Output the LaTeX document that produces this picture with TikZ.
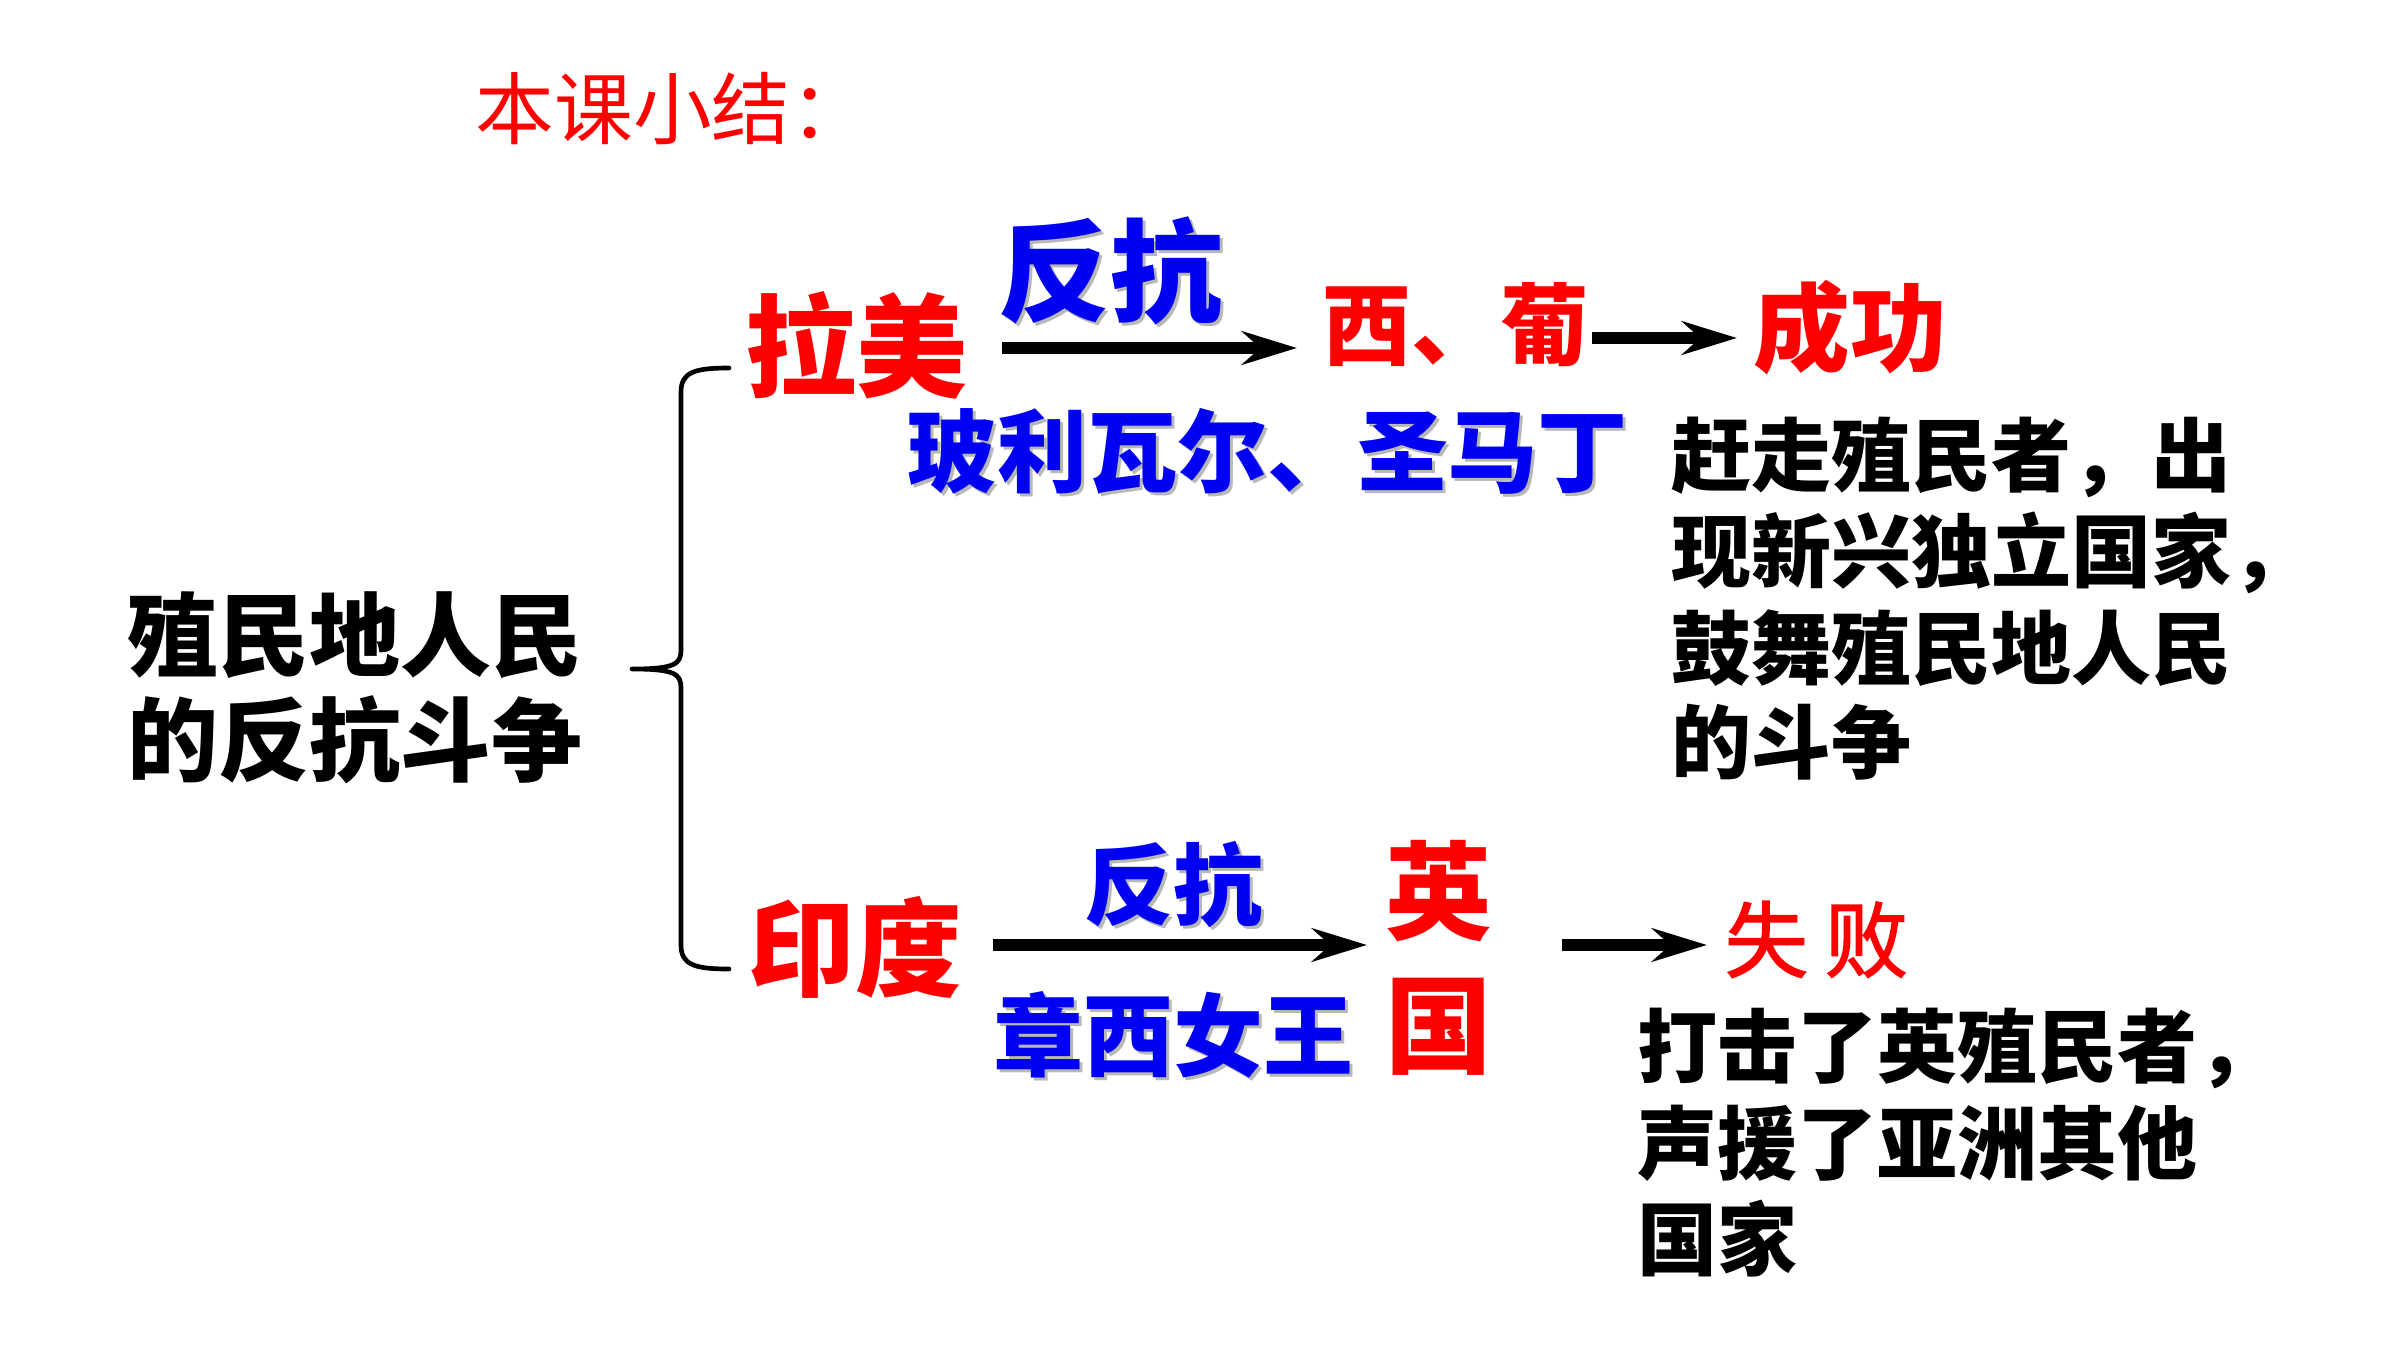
\documentclass[tikz,border=0pt]{standalone}
\usepackage{fontspec}
\setmainfont{Noto Sans CJK SC}
\newfontfamily\cjk{Noto Sans CJK SC}
\newfontfamily\cjkm{Noto Sans CJK SC}[FakeBold=1.6]
\usetikzlibrary{arrows.meta}
\definecolor{tred}{RGB}{255,0,0}
\definecolor{tblue}{RGB}{0,0,245}
\newcommand\shd[1]{\makebox[0pt][l]{\hspace{0.9pt}\raisebox{-0.9pt}{\textcolor{black!28}{#1}}}#1}
\tikzset{
  txt/.style={anchor=base west, inner sep=0pt, font=\cjk\bfseries},
  redt/.style={txt, text=tred},
  bluet/.style={txt, text=tblue},
  blackt/.style={txt, text=black},
  arr/.style={line width=3.4pt, -{Stealth[length=16.5pt, width=10pt, inset=5.5pt]}},
  brace/.style={line width=1.4pt, line cap=round, line join=round},
}
\newcommand\fs[1]{\fontsize{#1pt}{#1pt}\selectfont}
\begin{document}
\begin{tikzpicture}[x=0.3pt,y=-0.3pt]
\useasboundingbox (0,0) rectangle (2400,1350);
\fill[white] (0,0) rectangle (2400,1350);
% title
\node[txt, font=\cjk, text=tred] (title) at (475,139) {\fs{23.6}本课小结：};
% root
\node[blackt] (root1) at (127,669) {\fs{27.3}殖民地人民};
\node[blackt] (root2) at (127,774) {\fs{27.3}的反抗斗争};
% brace
\coordinate (btop) at (729,368);
\coordinate (bbot) at (729,969);
\coordinate (btip) at (632,669);
\draw[brace] (btop) .. controls (695,368) and (681,372) .. (681,392)
  -- (681,650) .. controls (681,664) and (675,669) .. (btip)
  .. controls (675,669) and (681,674) .. (681,688)
  -- (681,945) .. controls (681,965) and (695,969) .. (bbot);
% Latin America
\node[redt] (lamei) at (745,388) {\fs{33.3}拉美};
\node[bluet] (fk1) at (998,314) {\fs{33.5}\shd{反抗}};
\coordinate (a1s) at (1002,348);
\coordinate (a1e) at (1297,348);
\draw[arr] (a1s) -- (a1e);
\node[redt] (xipu) at (1322,359) {\fs{26.7}西、葡};
\coordinate (a2s) at (1592,338);
\coordinate (a2e) at (1737,338);
\draw[arr] (a2s) -- (a2e);
\node[redt] (cg) at (1753,365) {\fs{29}成功};
\node[bluet] (leaders1) at (907,485) {\fs{27}\shd{玻利瓦尔、圣马丁}};
\node[blackt] (r1) at (1671,485) {\fs{24}赶走殖民者，出};
\node[blackt] (r2) at (1671,581) {\fs{24}现新兴独立国家，};
\node[blackt] (r3) at (1671,678) {\fs{24}鼓舞殖民地人民};
\node[blackt] (r4) at (1671,772) {\fs{24}的斗争};
% India
\node[redt] (india) at (748,988) {\fs{32}印度};
\node[bluet] (fk2) at (1084,918) {\fs{26.7}\shd{反抗}};
\coordinate (b1s) at (993,945);
\coordinate (b1e) at (1367,945);
\draw[arr] (b1s) -- (b1e);
\node[redt] (ying) at (1385,931) {\fs{32}英};
\node[redt] (guo) at (1385,1065) {\fs{32}国};
\node[bluet] (leaders2) at (993,1069) {\fs{27}\shd{章西女王}};
\coordinate (b2s) at (1562,945);
\coordinate (b2e) at (1707,945);
\draw[arr] (b2s) -- (b2e);
\node[txt, font=\cjkm, text=tred] (sb) at (1724,971) {\fs{25}失\hspace{5pt}败};
\node[blackt] (s1) at (1637,1076) {\fs{24}打击了英殖民者，};
\node[blackt] (s2) at (1637,1173) {\fs{24}声援了亚洲其他};
\node[blackt] (s3) at (1637,1269) {\fs{24}国家};
\end{tikzpicture}
\end{document}
